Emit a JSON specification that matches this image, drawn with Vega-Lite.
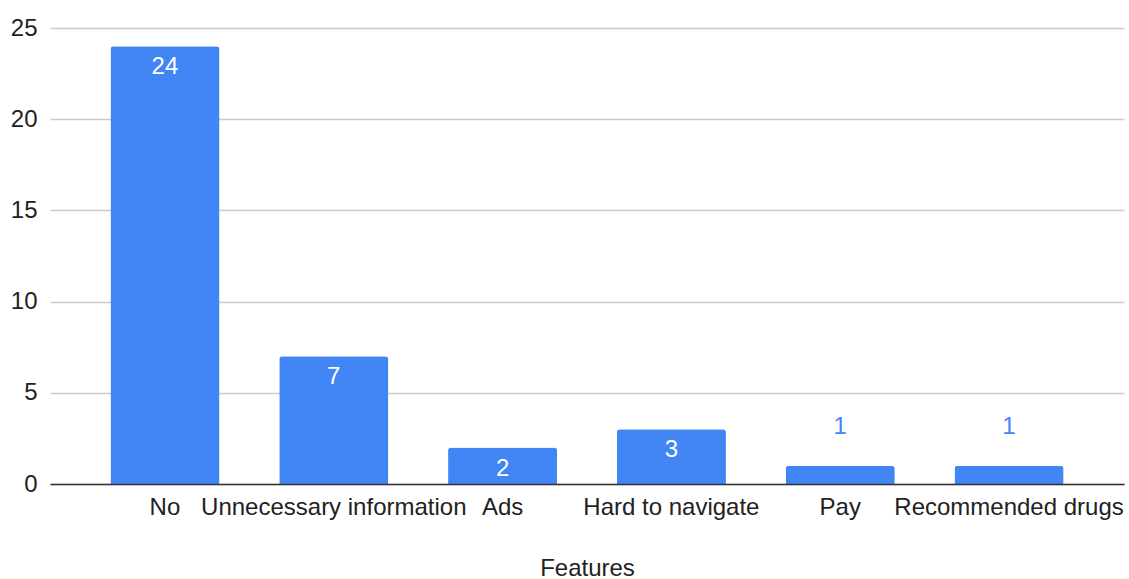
{
  "$schema": "https://vega.github.io/schema/vega-lite/v6.json",
  "autosize": {"type": "none"},
  "padding": {"left": 50, "top": 28, "right": 5, "bottom": 95},
  "width": 1074,
  "height": 456,
  "background": "white",
  "config": {
    "view": {"stroke": null},
    "font": "Liberation Sans",
    "axis": {"labelFont": "Liberation Sans", "titleFont": "Liberation Sans"}
  },
  "data": {
    "values": [
      {"feature": "No", "count": 24},
      {"feature": "Unnecessary information", "count": 7},
      {"feature": "Ads", "count": 2},
      {"feature": "Hard to navigate", "count": 3},
      {"feature": "Pay", "count": 1},
      {"feature": "Recommended drugs", "count": 1}
    ]
  },
  "encoding": {
    "x": {
      "field": "feature",
      "type": "nominal",
      "sort": null,
      "scale": {"paddingInner": 0.354, "paddingOuter": 0.358},
      "axis": {
        "title": "Features",
        "titleFontSize": 24,
        "titleFontWeight": "normal",
        "titleColor": "#222222",
        "titlePadding": 37,
        "labelAngle": 0,
        "labelFontSize": 24,
        "labelColor": "#222222",
        "labelPadding": 11,
        "labelLimit": 0,
        "labelOverlap": false,
        "labelBound": false,
        "ticks": false,
        "domainColor": "#333333",
        "domainWidth": 1.5,
        "zindex": 1
      }
    },
    "y": {
      "field": "count",
      "type": "quantitative",
      "scale": {"domain": [0, 25], "nice": false},
      "axis": {
        "title": null,
        "values": [0, 5, 10, 15, 20, 25],
        "labelFontSize": 24,
        "labelColor": "#222222",
        "labelPadding": 13,
        "ticks": false,
        "domain": false,
        "gridColor": "#cccccc",
        "gridWidth": 1.3
      }
    }
  },
  "layer": [
    {
      "mark": {"type": "bar", "color": "#4285F4", "cornerRadiusTopLeft": 3, "cornerRadiusTopRight": 3}
    },
    {
      "transform": [{"filter": "datum.count >= 2"}],
      "mark": {"type": "text", "color": "white", "fontSize": 24, "dy": 21, "baseline": "middle"},
      "encoding": {"text": {"field": "count", "type": "quantitative"}}
    },
    {
      "transform": [{"filter": "datum.count < 2"}],
      "mark": {"type": "text", "color": "#4285F4", "fontSize": 24, "dy": -39, "baseline": "middle"},
      "encoding": {"text": {"field": "count", "type": "quantitative"}}
    }
  ]
}
